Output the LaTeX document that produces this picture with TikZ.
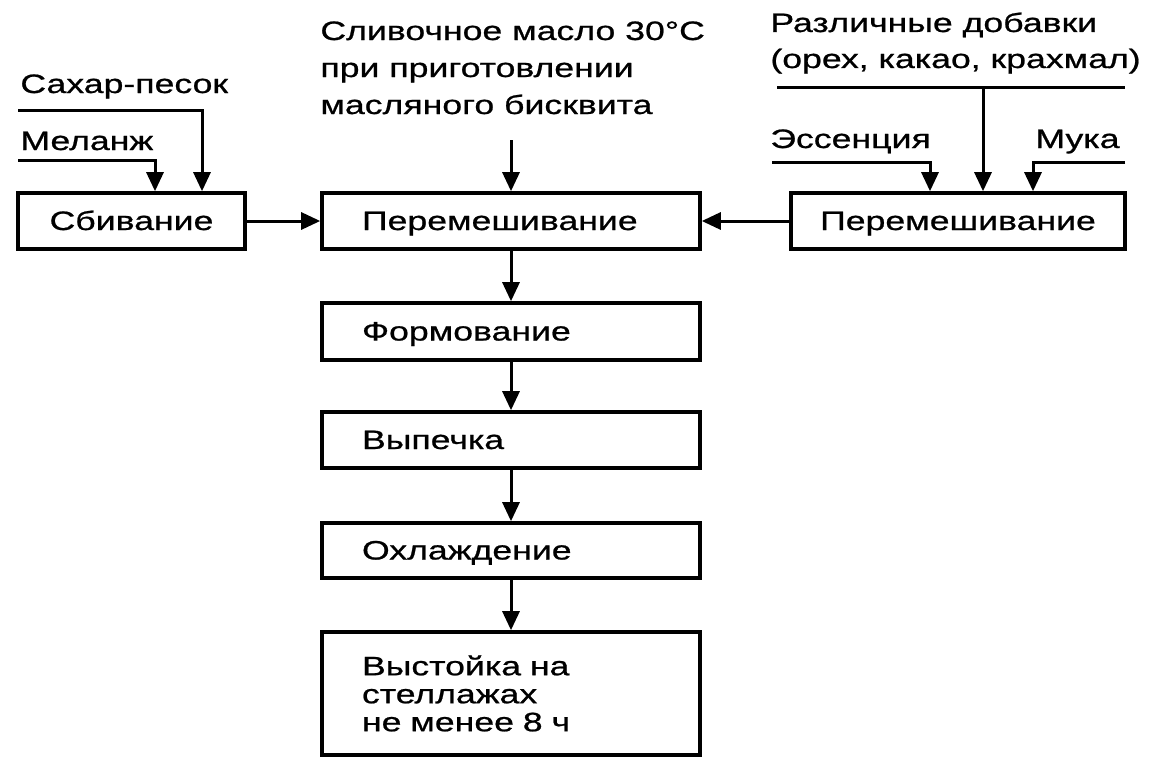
\documentclass[tikz,border=0pt]{standalone}
\usepackage{fontspec}
\setmainfont{Liberation Sans}[FakeStretch=1.34,FakeBold=0.8]
\usetikzlibrary{arrows.meta}
\begin{document}
\begin{tikzpicture}[x=0.5pt,y=-0.5pt,
  font=\fontsize{13.3}{14}\selectfont,
  box/.style={draw, line width=1.8pt, inner sep=0pt},
  one/.style={text height=9pt, text depth=0pt},
  mid/.style={box, minimum width=189pt, text width=149pt, inner xsep=20pt, align=left},
  lbl/.style={anchor=base west, inner sep=0pt},
  conn/.style={line width=1.5pt},
  arr/.style={conn, -{Triangle[length=9.5pt,width=8.5pt]}}]
\useasboundingbox (0,0) rectangle (1158,776);

% boxes
\node[box, one, minimum width=113.5pt, minimum height=28pt] (sb) at (131.5,221) {Сбивание};
\node[mid, one, minimum height=28pt] (m1) at (511,221) {Перемешивание};
\node[box, one, minimum width=167pt, minimum height=28pt] (rb) at (958,221) {Перемешивание};
\node[mid, one, minimum height=28.5pt] (m2) at (511,331.5) {Формование};
\node[mid, one, minimum height=28pt] (m3) at (511,440) {Выпечка};
\node[mid, one, minimum height=27.5pt] (m4) at (511,550.5) {Охлаждение};
\node[mid, minimum height=61.5pt] (m5) at (511,693.5) {Выстойка на\\стеллажах\\не менее 8 ч};

% labels
\node[lbl] (tS) at (20,93) {Сахар-песок};
\node[lbl] (tM) at (20,150) {Меланж};
\node[lbl] (tB1) at (320,40) {Сливочное масло 30°C};
\node[lbl] (tB2) at (320,77) {при приготовлении};
\node[lbl] (tB3) at (320,114) {масляного бисквита};
\node[lbl] (tD1) at (770,32) {Различные добавки};
\node[lbl] (tD2) at (770,68) {(орех, какао, крахмал)};
\node[lbl] (tE) at (770,148) {Эссенция};
\node[lbl] (tK) at (1035,148) {Мука};

% input coordinates
\coordinate (sA) at (18,110);  \coordinate (sAx) at (202,0);
\coordinate (mA) at (18,160);  \coordinate (mAx) at (155,0);
\coordinate (bA) at (511,140);
\coordinate (dL) at (777,87);  \coordinate (dR) at (1125,87);
\coordinate (dM) at (983,87);
\coordinate (eA) at (772,162); \coordinate (eAx) at (930,0);
\coordinate (kA) at (1125,162); \coordinate (kAx) at (1033,0);

% input connectors
\draw[arr] (sA) -| (sb.north -| sAx);
\draw[arr] (mA) -| (sb.north -| mAx);
\draw[arr] (bA) -- (m1.north);
\draw[conn] (dL) -- (dR);
\draw[arr] (dM) -- (rb.north -| dM);
\draw[arr] (eA) -| (rb.north -| eAx);
\draw[arr] (kA) -| (rb.north -| kAx);

% process connectors
\draw[arr] (sb.east) -- (m1.west);
\draw[arr] (rb.west) -- (m1.east);
\draw[arr] (m1.south) -- (m2.north);
\draw[arr] (m2.south) -- (m3.north);
\draw[arr] (m3.south) -- (m4.north);
\draw[arr] (m4.south) -- (m5.north);
\end{tikzpicture}
\end{document}
